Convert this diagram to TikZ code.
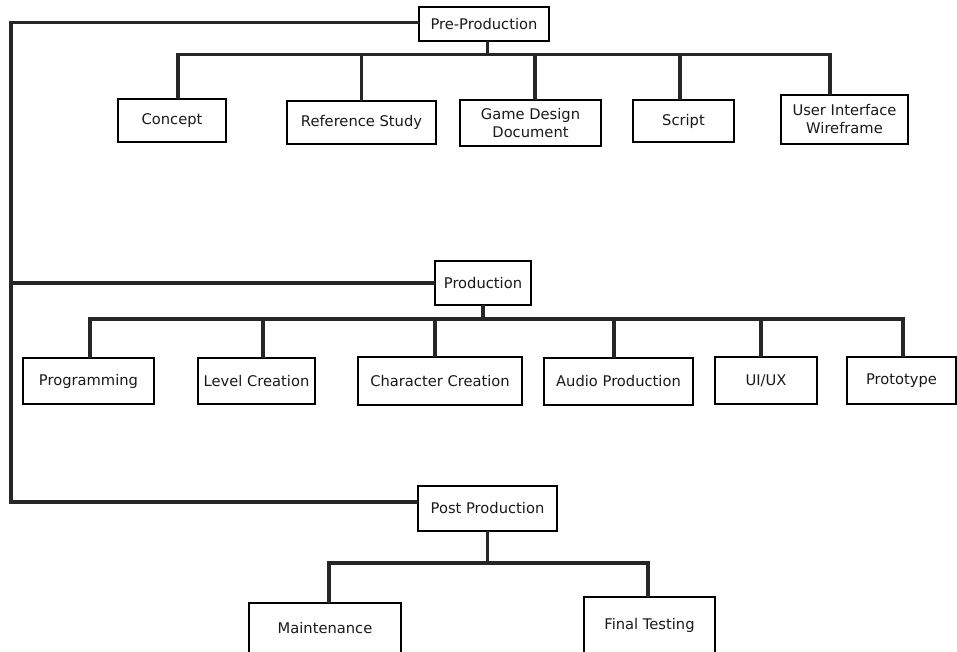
\documentclass[tikz,border=0pt]{standalone}
\usepackage{fontspec}
\setmainfont{DejaVu Sans}
\usetikzlibrary{calc}
\usetikzlibrary{positioning}
\begin{document}
\begin{tikzpicture}[x=1pt,y=-1pt,line cap=butt,line join=miter
  ,box/.style={draw,line width=1.8pt,inner sep=0pt,outer sep=0pt,align=center
    ,font=\fontsize{14.7pt}{18pt}\selectfont,text=black!90}
  ,link/.style={line width=3.2pt,black!85}]
\useasboundingbox (0,0) rectangle (957,651);
\coordinate (trunk) at (11,22.7);
\coordinate (busA) at (0,54.5);
\coordinate (busB) at (0,319);
\coordinate (busC) at (0,563);
\node[box,minimum width=130pt,minimum height=34pt] (pre) at (484,24) {Pre-Production};
\node[box,minimum width=108pt,minimum height=43pt] (concept) at (172,120.5) {Concept};
\node[box,minimum width=149pt,minimum height=43pt] (refstudy) at (361.5,122.5) {Reference Study};
\node[box,minimum width=141pt,minimum height=46pt] (gdd) at (530.5,123) {Game Design\\Document};
\node[box,minimum width=101pt,minimum height=42pt] (script) at (683.5,121) {Script};
\node[box,minimum width=127pt,minimum height=49pt] (uiwire) at (844.5,119.5) {User Interface\\Wireframe};
\node[box,minimum width=96pt,minimum height=44pt] (prod) at (483,283) {Production};
\node[box,minimum width=131pt,minimum height=46pt] (prog) at (88.5,381) {Programming};
\node[box,minimum width=117pt,minimum height=46pt] (level) at (256.5,381) {Level Creation};
\node[box,minimum width=164pt,minimum height=48pt] (chara) at (440,381) {Character Creation};
\node[box,minimum width=149pt,minimum height=47pt] (audio) at (618.5,381.5) {Audio Production};
\node[box,minimum width=102pt,minimum height=47pt] (uiux) at (766,380.5) {UI/UX};
\node[box,minimum width=109pt,minimum height=47pt] (proto) at (901.5,380.5) {Prototype};
\node[box,minimum width=139pt,minimum height=45pt] (post) at (487.5,508.5) {Post Production};
\node[box,minimum width=152pt,minimum height=50pt] (maint) at (325,628) {Maintenance};
\node[box,minimum width=131pt,minimum height=56pt] (final) at (649.5,625) {Final Testing};
\draw[link] ([yshift=1.3pt]pre.west) -- (trunk) |- ([yshift=6.5pt]post.west);
\draw[link] (trunk |- prod.west) -- (prod.west);
\draw[link] ([xshift=3.5pt]pre.south) -- ([xshift=3.5pt]pre.south |- busA);
\draw[link] ([xshift=6pt]concept.north) |- ([xshift=-14.5pt]uiwire.north |- busA)
  -- ([xshift=-14.5pt]uiwire.north);
\draw[link] (refstudy.north) -- (refstudy.north |- busA);
\draw[link] ([xshift=4.5pt]gdd.north) -- ([xshift=4.5pt]gdd.north |- busA);
\draw[link] ([xshift=-3.5pt]script.north) -- ([xshift=-3.5pt]script.north |- busA);
\draw[link] (prod.south) -- (prod.south |- busB);
\draw[link] ([xshift=1.5pt]prog.north) |- ([xshift=1.5pt]proto.north |- busB)
  -- ([xshift=1.5pt]proto.north);
\draw[link] ([xshift=6.5pt]level.north) -- ([xshift=6.5pt]level.north |- busB);
\draw[link] ([xshift=-5pt]chara.north) -- ([xshift=-5pt]chara.north |- busB);
\draw[link] ([xshift=-4.5pt]audio.north) -- ([xshift=-4.5pt]audio.north |- busB);
\draw[link] ([xshift=-5pt]uiux.north) -- ([xshift=-5pt]uiux.north |- busB);
\draw[link] (post.south) -- (post.south |- busC);
\draw[link] ([xshift=4pt]maint.north) |- ([xshift=-1.5pt]final.north |- busC)
  -- ([xshift=-1.5pt]final.north);
\end{tikzpicture}
\end{document}
